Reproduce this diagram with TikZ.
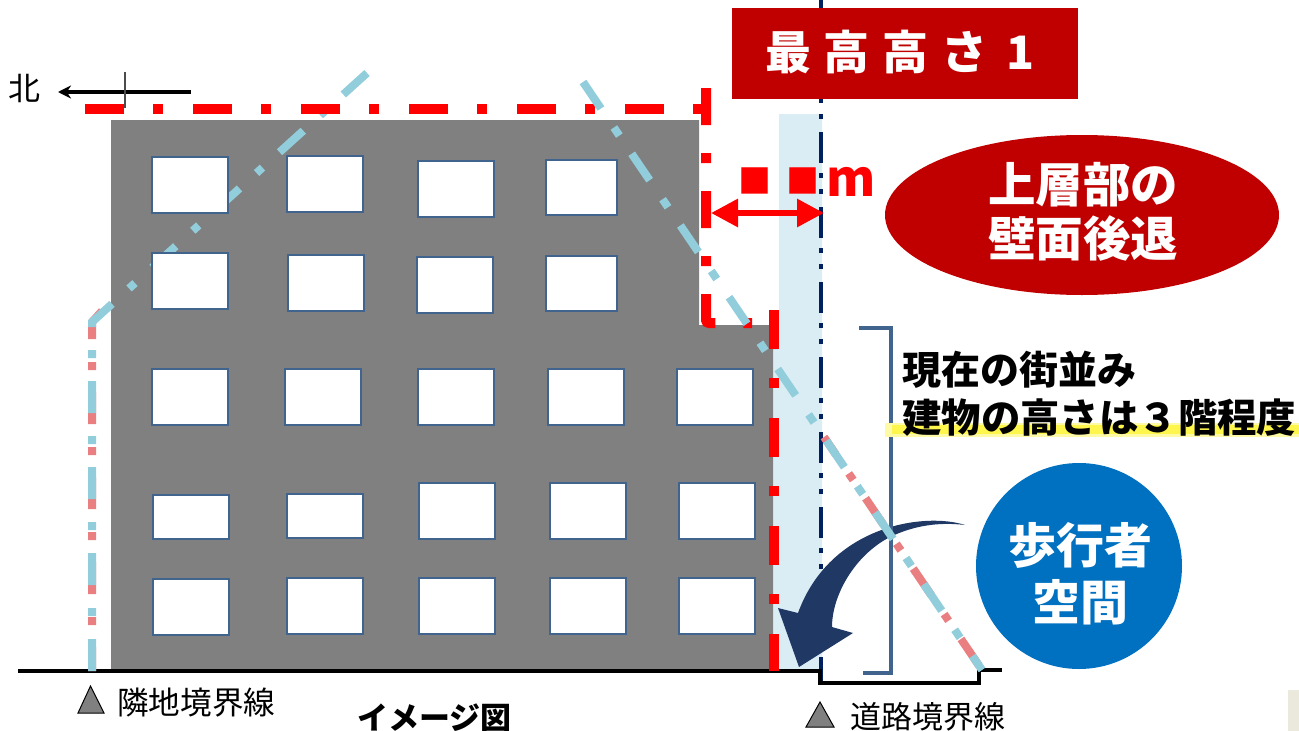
\documentclass[tikz,border=0pt]{standalone}
\usepackage{fontspec}
\setmainfont{Noto Sans CJK JP}
\usetikzlibrary{arrows.meta,shapes.geometric}
\definecolor{darkred}{HTML}{C00000}
\definecolor{roadblue}{HTML}{002060}
\definecolor{arrowblue}{HTML}{1F3864}
\definecolor{framblue}{HTML}{41648F}
\definecolor{skyline}{HTML}{92CDDC}
\definecolor{salmon}{HTML}{E97F80}
\definecolor{setback}{HTML}{DAEDF4}
\definecolor{wallgray}{HTML}{808080}
\definecolor{circblue}{HTML}{0070C0}
\definecolor{beige}{HTML}{EBE8DC}
\tikzset{
	label/.style={inner sep=0pt,text=#1},
	label/.default=black,
	skyplane/.style={color=skyline,line width=8pt},
	skyunder/.style={color=salmon,line width=8pt,dash pattern=on 32pt off 23pt on 8pt off 22pt},
	limit/.style={color=red,line width=10pt},
	window/.style={fill=white,draw=framblue,line width=1.5pt},
	marker/.style={fill=wallgray,draw=black,line width=1pt},
}
\newcommand{\fsz}[1]{\fontsize{#1}{#1}\selectfont}
\begin{document}
\begin{tikzpicture}[x=1pt,y=-1pt]
\useasboundingbox (0,0) rectangle (1299,731);

% setback strip and building
\fill[setback] (779,114) -- (822,114) -- (822,671) -- (773,671) -- (773,350) -- (779,340) -- cycle;
\fill[wallgray] (111,120) -- (699,120) -- (699,325) -- (778,325) -- (778,349) -- (773,349) -- (773,671) -- (111,671) -- cycle;

% road line
\draw[color=roadblue,line width=4pt,dash pattern=on 31pt off 10pt on 5pt off 11pt on 5pt off 13pt] (821,-18) -- (821,684);

% ground
\coordinate (groundA) at (18,671);
\coordinate (groundB) at (820,671);
\coordinate (groundC) at (820,683);
\coordinate (groundD) at (979,683);
\coordinate (groundE) at (979,670);
\coordinate (groundF) at (1002,670);
\draw[line width=3.5pt] (groundA) -- (groundB) -- (groundC) -- (groundD) -- (groundE) -- (groundF);

% slanted planes
\draw[skyunder,dash phase=0pt] (102,311) -- (92,322) -- (92,671);
\draw[skyunder,dash phase=11pt] (824,437) -- (982,670);
\draw[skyplane,dash pattern=on 32pt off 23pt on 8pt off 23pt] (367,73) -- (92,322) -- (92,671);

% height limit
\draw[limit,dash pattern=on 39pt off 29pt on 10pt off 30pt] (85,109) -- (703,109);
\draw[limit,rounded corners=3pt,dash pattern=on 37pt off 28pt on 10pt off 28pt] (706,88) -- (706,323) -- (752,323);
\draw[limit,dash pattern=on 39pt off 29pt on 10pt off 30pt] (774,310) -- (774,671);

% curved arrow
\fill[arrowblue] (965,525) .. controls (925,512) and (830,525) .. (798,613) -- (778,608) -- (799,667) -- (853,633) -- (832,627) .. controls (832,595) and (855,555) .. (890,537) .. controls (915,525) and (940,522) .. (965,525) -- cycle;

% bracket
\coordinate (brackA) at (859,328);
\coordinate (brackB) at (891,328);
\coordinate (brackC) at (891,673);
\coordinate (brackD) at (863,673);
\draw[color=framblue,line width=3.5pt] (brackA) -- (brackB) -- (brackC) -- (brackD);

\draw[skyplane,dash pattern=on 32pt off 23pt on 9.7pt off 22pt] (583,82) -- (982,670);

% windows
\foreach \xa/\ya/\xb/\yb in {152/157/228/213,287/156/363/212,418/161/494/217,546/160/617/215,
	152/253/228/309,288/255/364/311,417/257/493/313,546/256/617/311,
	152/369/228/425,285/369/361/425,418/369/494/425,548/369/624/425,677/369/753/425,
	153/495/229/539,287/494/363/538,419/483/495/539,550/483/626/539,679/483/755/539,
	153/579/229/635,287/578/363/634,419/578/495/634,550/578/626/634,679/578/755/634} {
		\draw[window] (\xa,\ya) rectangle (\xb,\yb);
		}

% north arrow
\node (kita) at (25,88) [label] {\fsz{32}北};
\coordinate (kitaTail) at (191,92);
\coordinate (kitaHead) at (58,92);
\draw[line width=4pt,-{Stealth[length=13pt,width=13pt]}] (kitaTail) -- (kitaHead);
\coordinate (tickA) at (125,72);
\coordinate (tickB) at (125,108);
\draw[color=black!70,line width=1.5pt] (tickA) -- (tickB);

% title
\node (titlebox) at (905,53.5) [rectangle,fill=darkred,minimum width=346pt,minimum height=91pt,inner sep=0pt] {};
\node (title) at (900,52) [label=white] {\fsz{46}\bfseries 最\hspace{13pt}高\hspace{13pt}高\hspace{13pt}さ\hspace{19pt}1};

% dimension
\node (dimtext) at (807,182) [label=red] {\bfseries\fsz{33}\raisebox{3pt}{■}\hspace{.45em}\raisebox{3pt}{■}\hspace{.2em}\fsz{50}m};
\coordinate (dimL) at (711,213);
\coordinate (dimR) at (824,213);
\draw[color=red,line width=6pt,{Triangle[length=27pt,width=27pt]}-{Triangle[length=27pt,width=27pt]}] (dimL) -- (dimR);

% callouts
\node (upper) at (1082,215) [ellipse,fill=darkred,minimum width=394pt,minimum height=160pt,inner sep=0pt] {};
\node (uppertext) at (1083,212) [label=white,align=center] {\fsz{47.5}\bfseries 上層部の\\[8pt]\fsz{47.5}\bfseries 壁面後退};
\node (walker) at (1079,566) [circle,fill=circblue,minimum size=206pt,inner sep=0pt] {};
\node (walkertext) at (1080,574) [label=white,align=center] {\fsz{48}\bfseries 歩行者\\[10pt]\fsz{48}\bfseries 空間};

% note
\fill[color=yellow!35] (885,423) rectangle (1299,437);
\fill[color=yellow!70] (892,425) rectangle (1299,434);
\node (noteA) at (902,370) [label,anchor=west] {\fsz{39}\bfseries 現在の街並み};
\node (noteB) at (902,418) [label,anchor=west] {\fsz{39.4}\bfseries 建物の高さは３階程度};

% boundary labels
\draw[marker] (90.5,686) -- (104,713) -- (78,713) -- cycle;
\node (nbr) at (117,703) [label,anchor=west] {\fsz{31.6}隣地境界線};
\draw[marker] (820,702) -- (834,727) -- (806,727) -- cycle;
\node (road) at (850,717) [label,anchor=west] {\fsz{31}道路境界線};
\node (img) at (357,718) [label,anchor=west] {\fsz{31}\bfseries イメージ図};
\fill[beige] (1288,690) rectangle (1299,731);
\end{tikzpicture}
\end{document}
